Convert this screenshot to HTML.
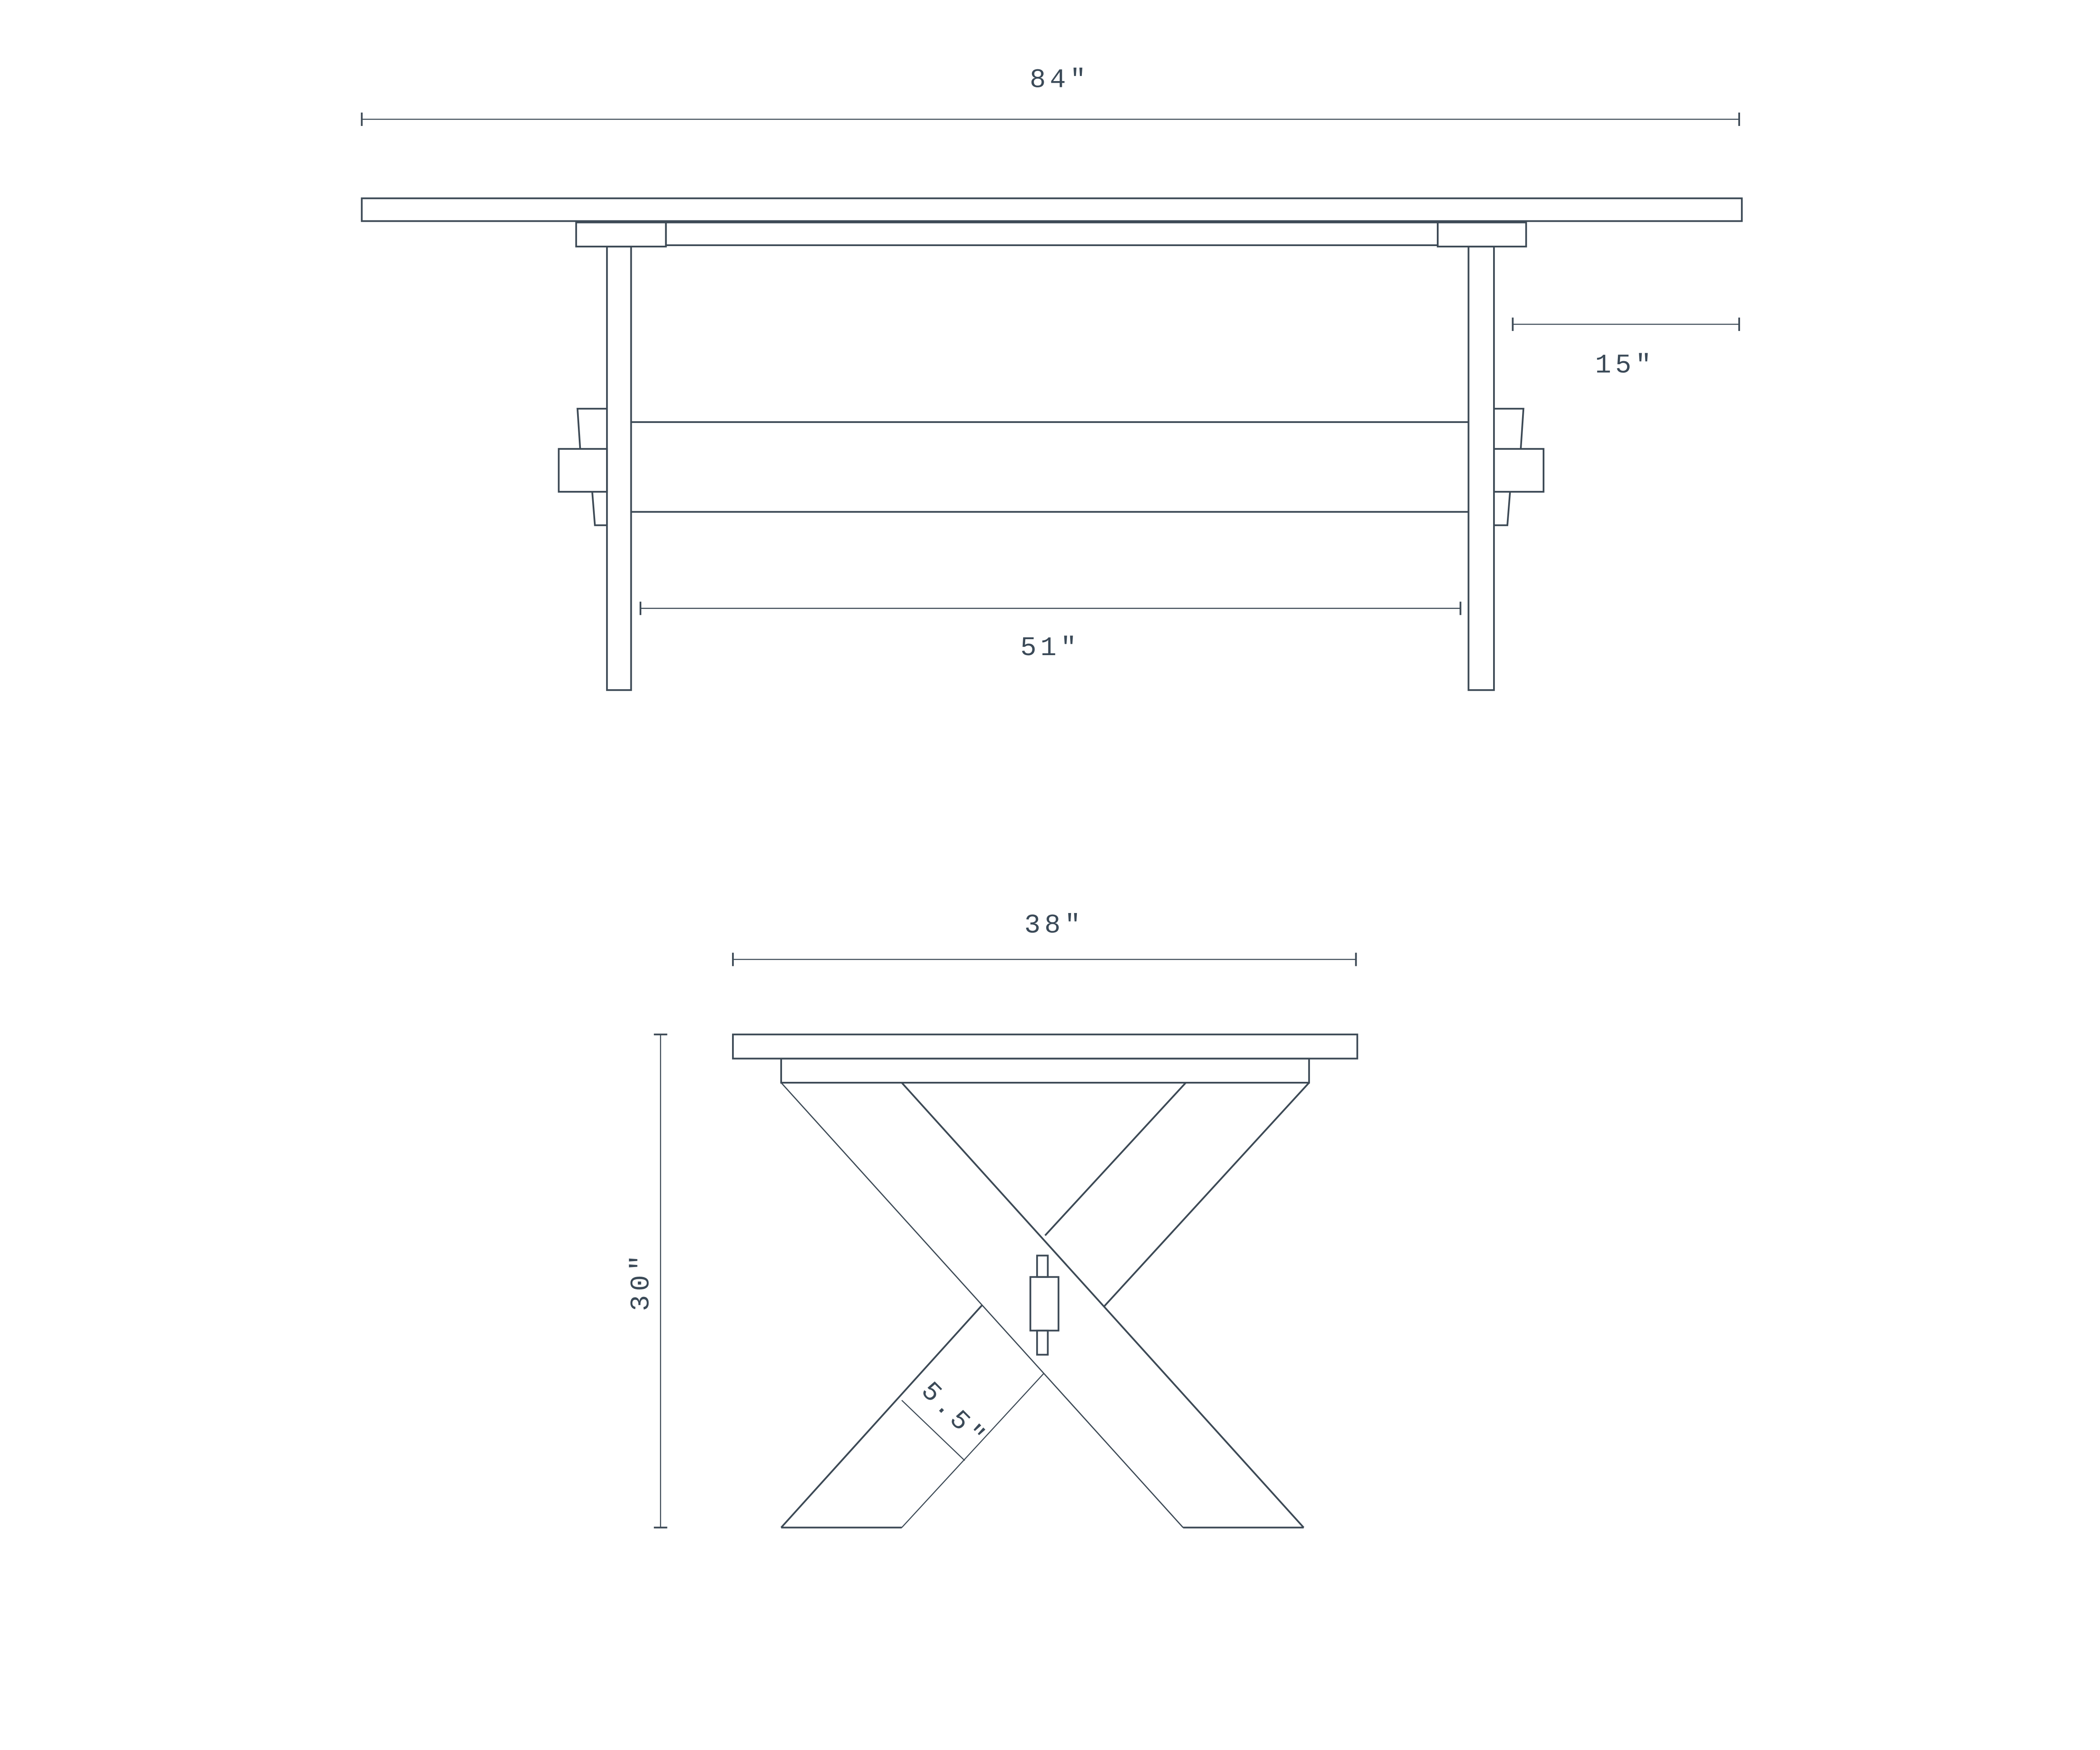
<!DOCTYPE html>
<html><head><meta charset="utf-8"><style>
html,body{margin:0;padding:0;background:#fff;}
svg{display:block;}
text{font-family:"Liberation Mono",monospace;fill:#3b4a58;font-size:20px;letter-spacing:3px;}
</style></head><body>
<svg width="5334" height="4167" viewBox="0 0 1672 1306" preserveAspectRatio="none" xmlns="http://www.w3.org/2000/svg">
<g fill="none" stroke="#3d4a56" stroke-width="1.3">
<line x1="270" y1="89" x2="1298" y2="89" stroke-width="0.8"/>
<line x1="270" y1="84" x2="270" y2="94"/><line x1="1298" y1="84" x2="1298" y2="94"/>
<rect x="270" y="148" width="1030" height="17"/>
<rect x="430" y="166" width="67" height="18"/>
<rect x="497" y="166" width="576" height="17"/>
<rect x="1073" y="166" width="66" height="18"/>
<rect x="453" y="184" width="18" height="331"/>
<rect x="1096" y="184" width="19" height="331"/>
<line x1="471" y1="315" x2="1096" y2="315"/>
<line x1="471" y1="382" x2="1096" y2="382"/>
<rect x="417" y="335" width="36" height="32"/>
<polyline points="453,305 431,305 433,335"/>
<polyline points="442,367 444,392 453,392"/>
<rect x="1115" y="335" width="37" height="32"/>
<polyline points="1115,305 1137,305 1135,335"/>
<polyline points="1127,367 1125,392 1115,392"/>
<line x1="1129" y1="242" x2="1298" y2="242" stroke-width="0.8"/>
<line x1="1129" y1="237" x2="1129" y2="247"/><line x1="1298" y1="237" x2="1298" y2="247"/>
<line x1="478" y1="454" x2="1090" y2="454" stroke-width="0.8"/>
<line x1="478" y1="449" x2="478" y2="459"/><line x1="1090" y1="449" x2="1090" y2="459"/>
<line x1="547" y1="716" x2="1012" y2="716" stroke-width="0.8"/>
<line x1="547" y1="711" x2="547" y2="721"/><line x1="1012" y1="711" x2="1012" y2="721"/>
<rect x="547" y="772" width="466" height="18"/>
<rect x="583" y="790" width="394" height="18"/>
<line x1="583" y1="808" x2="883" y2="1140" stroke-width="0.9"/>
<line x1="673" y1="808" x2="973" y2="1140"/>
<line x1="883" y1="1140" x2="973" y2="1140"/>
<line x1="885" y1="808" x2="780" y2="922"/>
<line x1="977" y1="808" x2="824" y2="975"/>
<line x1="583" y1="1140" x2="733" y2="974"/>
<line x1="673" y1="1140" x2="779" y2="1025" stroke-width="0.8"/>
<line x1="583" y1="1140" x2="673" y2="1140"/>
<rect x="769" y="953" width="21" height="40"/>
<rect x="774" y="937" width="8" height="16"/>
<rect x="774" y="993" width="8" height="18"/>
<line x1="673" y1="1045" x2="720" y2="1090" stroke-width="0.8"/>
<line x1="493" y1="772" x2="493" y2="1140" stroke-width="0.8"/>
<line x1="488" y1="772" x2="498" y2="772"/><line x1="488" y1="1140" x2="498" y2="1140"/>
</g>
<text x="791" y="65" text-anchor="middle">84"</text>
<text x="1213" y="278" text-anchor="middle">15"</text>
<text x="784" y="489" text-anchor="middle">51"</text>
<text x="787" y="696" text-anchor="middle">38"</text>
<text x="0" y="0" text-anchor="middle" transform="translate(484,956) rotate(-90)">30"</text>
<text x="0" y="0" text-anchor="middle" transform="translate(708,1060) rotate(45)">5.5"</text>
</svg>
</body></html>
